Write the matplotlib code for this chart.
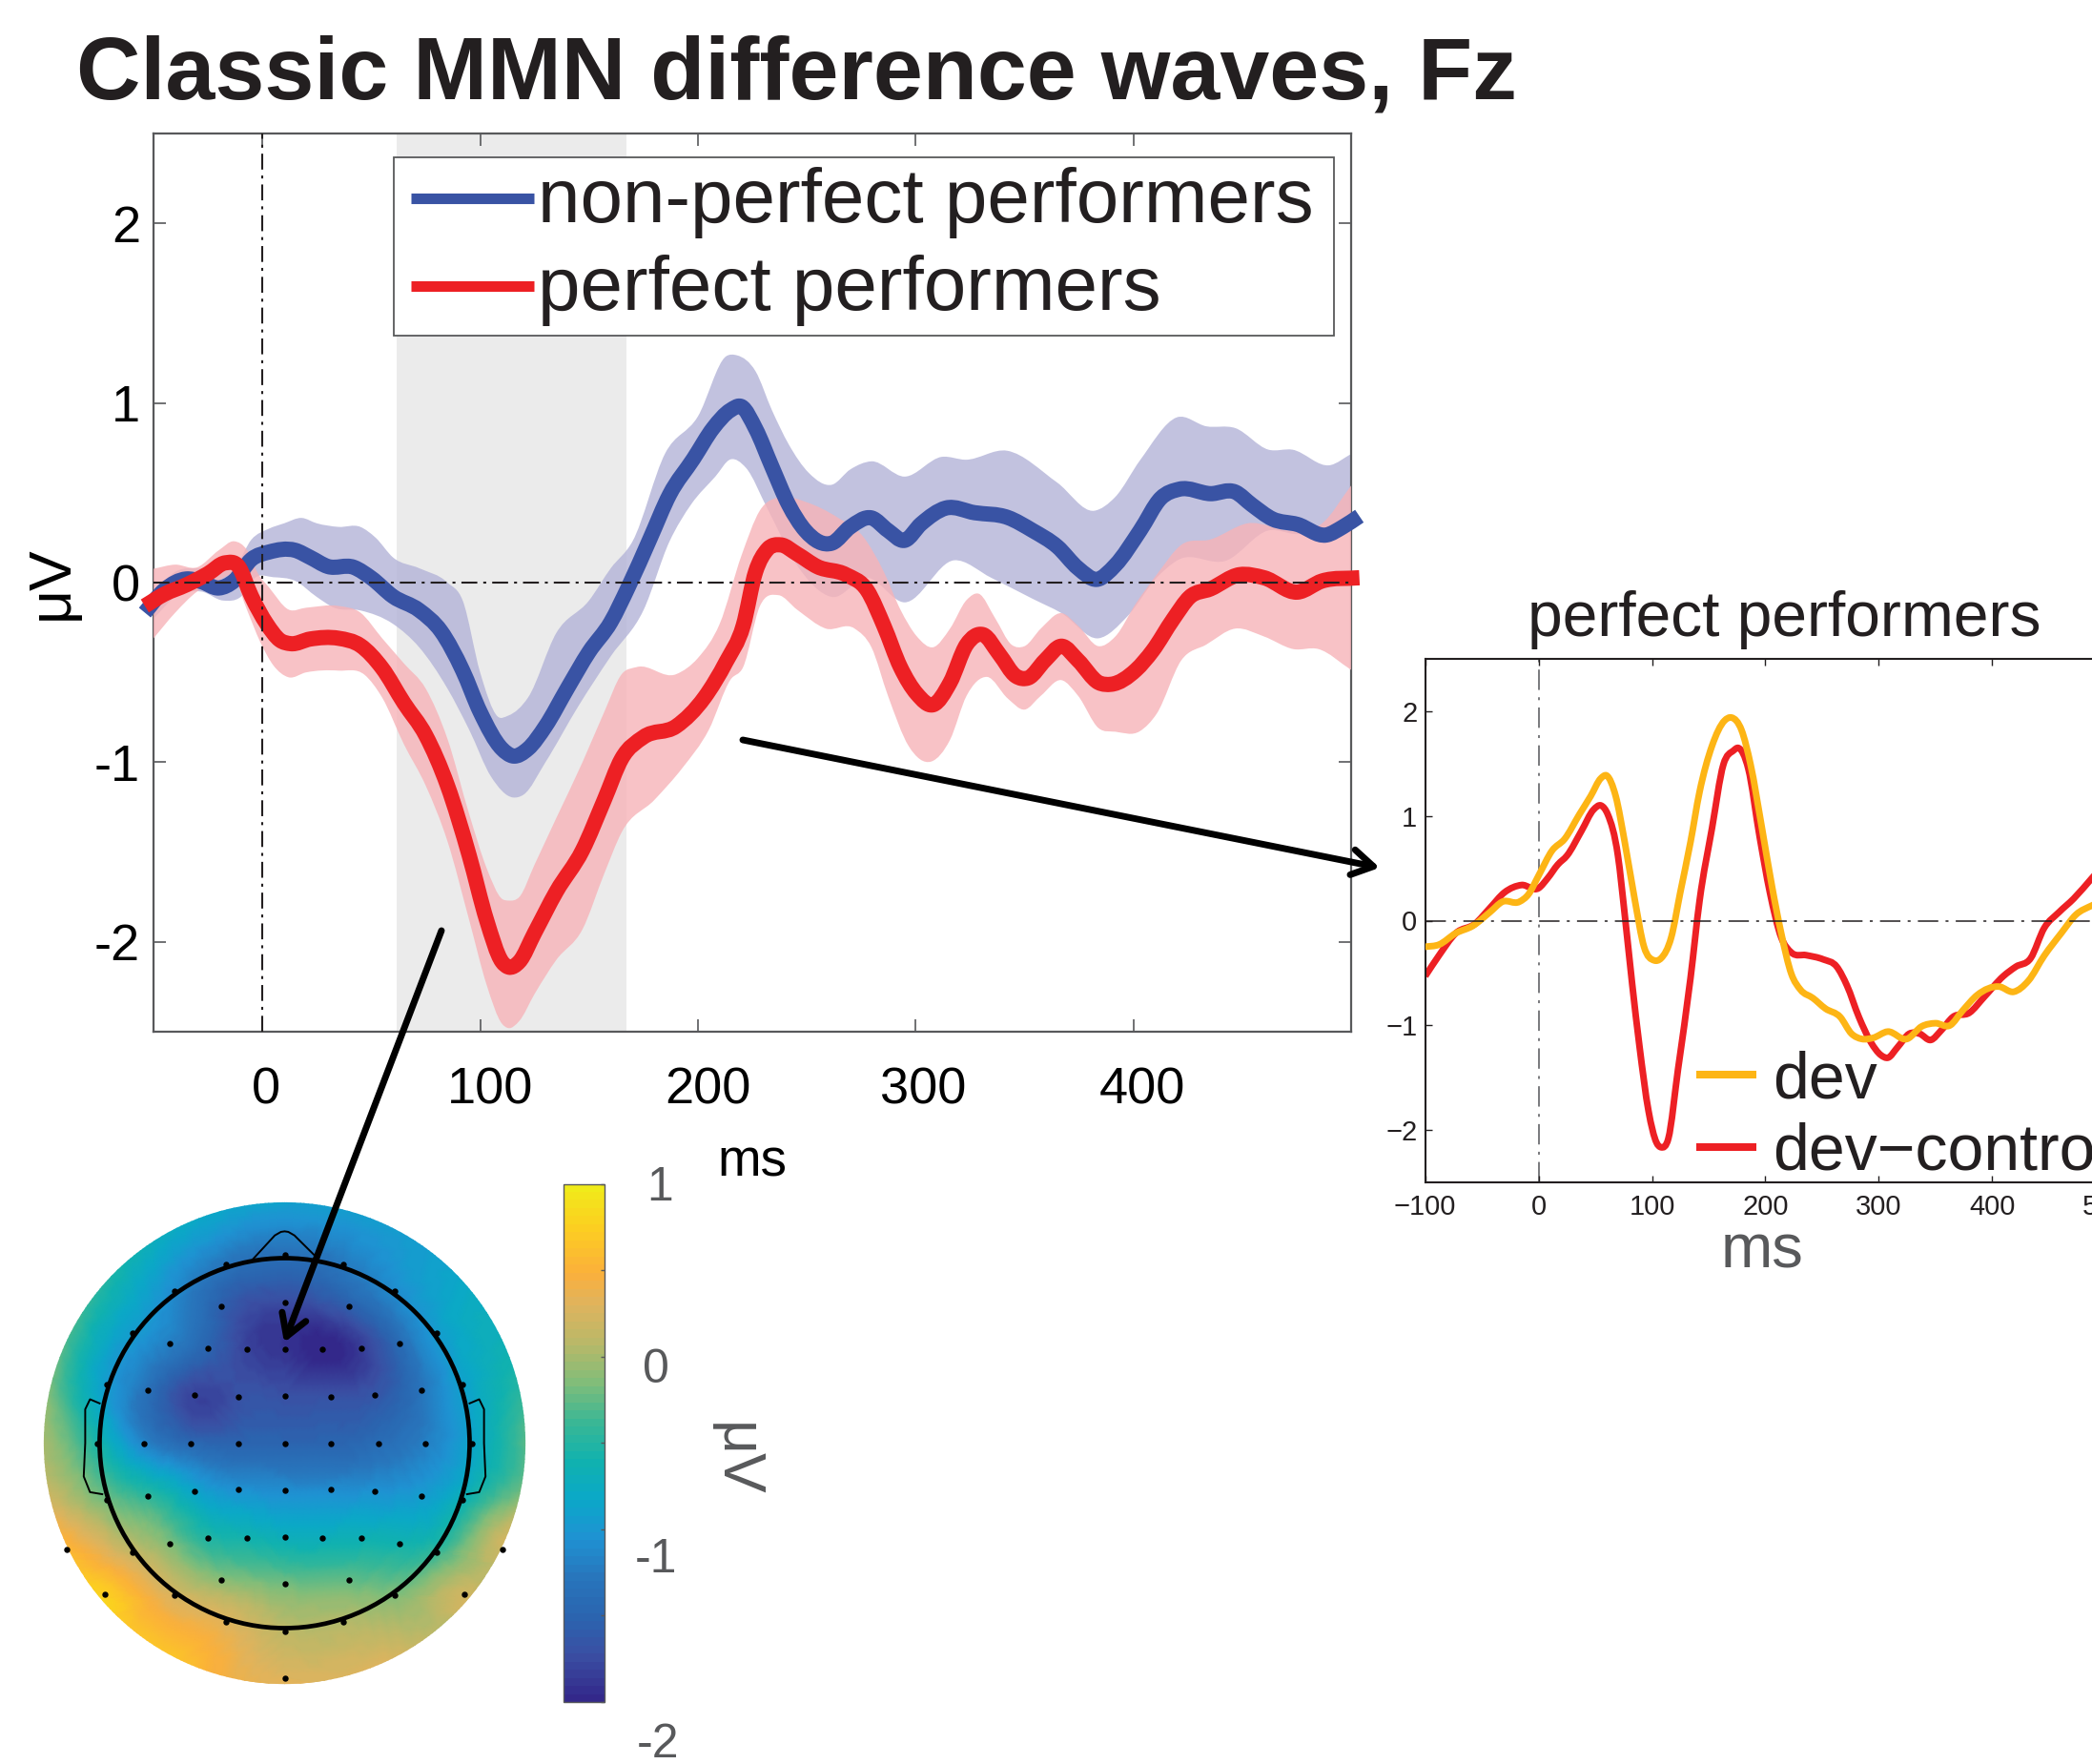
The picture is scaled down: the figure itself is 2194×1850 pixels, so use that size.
import numpy as np
import matplotlib
matplotlib.use('Agg')
import matplotlib.pyplot as plt
from matplotlib.colors import LinearSegmentedColormap, Normalize
from matplotlib.patches import FancyArrowPatch, Circle, PathPatch, Rectangle
from matplotlib.path import Path
from matplotlib.lines import Line2D
from matplotlib.tri import Triangulation, UniformTriRefiner, CubicTriInterpolator
from matplotlib.transforms import ScaledTranslation

plt.rcParams['font.family'] = ['Liberation Sans', 'DejaVu Sans']

# ---------- main panel: difference waves ----------
nonperf_t = [-54,-45,-35,-28,-20,-13,-5,3,15,22,30,42,50,60,72,82,92,100,110,115,122,130,140,150,160,168,178,187,198,207,215,220,226.5,234,241.7,249.3,261.6,270,279.7,287.3,294.9,302.5,313.9,327.1,342.3,353.7,365.1,374.6,383.2,391.7,403.1,412.6,421.1,435.4,446.8,454.4,463.9,475.3,488.6,496.2,503.8]
nonperf_v = [-0.167,-0.04,0.02,0.005,-0.03,0.01,0.13,0.17,0.18,0.14,0.09,0.085,0.026,-0.077,-0.154,-0.27,-0.49,-0.72,-0.925,-0.965,-0.925,-0.80,-0.59,-0.386,-0.22,-0.026,0.244,0.49,0.69,0.86,0.96,0.98,0.857,0.645,0.433,0.29,0.22,0.31,0.36,0.29,0.235,0.327,0.415,0.389,0.3625,0.29,0.20,0.08,0.018,0.097,0.29,0.47,0.52,0.495,0.504,0.433,0.354,0.324,0.265,0.31,0.37]
nonperf_up_t = [-50,-40,-28,-20,-12,-5,3,10,18,25,35,45,52,60,72,85,92,100,108,113,122,135,150,160,170,185,200,213,218,226.5,234,241.7,251,261.6,270,279.7,294.9,312,323,342,365,382,391.7,403,420,433.5,446.8,462,473,490.5,500]
nonperf_up_v = [-0.06,0.06,0.08,0.08,0.1,0.24,0.30,0.33,0.36,0.33,0.31,0.31,0.25,0.14,0.08,0.0,-0.1,-0.5,-0.745,-0.74,-0.64,-0.28,-0.1,0.08,0.23,0.72,0.925,1.26,1.265,1.176,0.96,0.77,0.61,0.545,0.63,0.675,0.59,0.70,0.684,0.734,0.557,0.40,0.477,0.68,0.92,0.87,0.86,0.74,0.74,0.654,0.716]
nonperf_lo_t = [-50,-40,-28,-18,-10,-3,5,15,25,33,45,60,72,85,95,105,115,120,130,145,160,175,187,197,208,215,222,232,245.5,261.6,277.8,294.9,317.6,334.7,353.7,367,384,397.4,410.7,420.2,443,462,475.3,488.6,500]
nonperf_lo_v = [-0.2,-0.08,-0.05,-0.1,-0.08,0.03,0.03,0.01,-0.08,-0.14,-0.155,-0.23,-0.36,-0.59,-0.82,-1.08,-1.196,-1.18,-1.0,-0.69,-0.41,-0.154,0.23,0.437,0.59,0.686,0.64,0.41,0.097,-0.08,0.027,-0.11,0.124,0.027,-0.09,-0.17,-0.31,-0.186,0.027,0.124,0.124,0.29,0.27,0.30,0.38]

perf_t = [-54,-45,-35,-25,-17,-11,-5,2,8,13,22,35,45,55,65,75,85,95,103,110,113,118,125,135,147,157,165,175,190,203,213,220.8,226.5,232,238,245.5,255,268,277.8,285.4,293,300.6,308,315.8,323.4,331,338.5,346,351.8,359.4,367,374.6,384.1,389.8,401.2,408.8,418.3,425.9,435.4,448.7,460,475.3,486.7,503.8]
perf_v = [-0.13,-0.064,-0.013,0.05,0.11,0.09,-0.077,-0.23,-0.32,-0.34,-0.314,-0.31,-0.35,-0.476,-0.67,-0.85,-1.13,-1.52,-1.88,-2.11,-2.14,-2.11,-1.95,-1.72,-1.49,-1.21,-0.98,-0.86,-0.80,-0.64,-0.44,-0.24,0.06,0.186,0.21,0.16,0.088,0.044,-0.044,-0.24,-0.47,-0.62,-0.68,-0.557,-0.345,-0.29,-0.40,-0.52,-0.53,-0.433,-0.354,-0.433,-0.557,-0.566,-0.486,-0.38,-0.203,-0.08,-0.035,0.044,0.027,-0.053,0.009,0.027]
perf_up_t = [-50,-40,-30,-20,-13,-7,-2,3,12,20,35,45,55,65,75,85,95,103,110,113,118,125,135,147,157,165,172,190,200,210,220,228.4,238,249.3,264.5,275.9,285.4,293,300.6,308,315.8,323.4,329,336.6,344,350,357.5,367,374.6,384,391.7,401.2,410.7,422,435.4,452.5,473.4,486.7,500]
perf_up_v = [0.077,0.10,0.085,0.18,0.23,0.18,0.05,-0.026,-0.15,-0.14,-0.13,-0.167,-0.31,-0.45,-0.59,-0.87,-1.29,-1.59,-1.76,-1.77,-1.75,-1.57,-1.31,-1.0,-0.72,-0.51,-0.47,-0.51,-0.42,-0.23,0.15,0.40,0.477,0.45,0.36,0.256,0.06,-0.15,-0.30,-0.36,-0.256,-0.097,-0.062,-0.20,-0.345,-0.354,-0.256,-0.17,-0.24,-0.354,-0.30,-0.115,0.044,0.21,0.24,0.33,0.29,0.33,0.54]
perf_lo_t = [-50,-40,-30,-20,-13,-7,-1,5,12,20,35,47,55,65,75,85,95,103,110,113,118,125,135,147,157,165,180,193,205,215,220.8,228.4,237,245.5,258.8,272,279.7,287.3,296.8,307.2,315.8,323.4,332.8,342.3,350,357.5,367,374.6,384,391.7,403,410.7,422,433.5,446.8,460,473.4,485,500]
perf_lo_v = [-0.31,-0.167,-0.05,0.013,0.026,-0.154,-0.33,-0.46,-0.527,-0.50,-0.49,-0.514,-0.64,-0.9,-1.13,-1.44,-1.88,-2.24,-2.455,-2.48,-2.44,-2.29,-2.1,-1.93,-1.62,-1.39,-1.21,-1.03,-0.82,-0.54,-0.47,-0.133,-0.07,-0.15,-0.256,-0.256,-0.36,-0.63,-0.91,-0.996,-0.875,-0.63,-0.525,-0.645,-0.707,-0.63,-0.543,-0.63,-0.81,-0.83,-0.827,-0.73,-0.433,-0.345,-0.256,-0.30,-0.37,-0.37,-0.486]

main_xticks = [0, 100, 200, 300, 400]
main_yticks = [-2, -1, 0, 1, 2]
main_ylabels = ['-2', '-1', '0', '1', '2']
window_ms = [61.5, 167]

# ---------- inset: perfect performers ----------
dev_t = [-100,-88,-73,-58,-43,-32,-17,-9,0,12,23,36,46,55,60,68,76,85,93,102,108,117,125,134,142,153,164,170,179,187,197,206,214,223,231,242,253,266,276,285,295,308,325,338,350,363,374,387,406,419,432,446,461,474,488,500]
dev_v = [-0.25,-0.23,-0.12,-0.05,0.08,0.18,0.18,0.25,0.43,0.67,0.78,1.015,1.19,1.36,1.386,1.19,0.75,0.19,-0.25,-0.38,-0.36,-0.16,0.27,0.75,1.23,1.67,1.91,1.94,1.82,1.49,0.885,0.32,-0.12,-0.51,-0.66,-0.74,-0.84,-0.92,-1.08,-1.13,-1.12,-1.06,-1.13,-1.01,-0.98,-1.0,-0.86,-0.71,-0.63,-0.68,-0.575,-0.335,-0.12,0.057,0.144,0.2]
devctl_t = [-100,-88,-73,-56,-43,-30,-15,0,8,17,25,38,48.5,55,61,70,76,82.5,89,97,104,108,114.5,123,134,142,153,163,172,176,185,195,204,214,223,236,251,263,272,282.5,293,302,308,316.6,327,336,346,355,365.5,380,393,410,421,434,446,459,472,488,500]
devctl_v = [-0.53,-0.335,-0.12,-0.03,0.12,0.27,0.34,0.31,0.405,0.536,0.62,0.86,1.06,1.10,1.015,0.62,0.057,-0.6,-1.2,-1.82,-2.12,-2.165,-2.08,-1.42,-0.55,0.19,0.885,1.49,1.625,1.65,1.45,0.8,0.27,-0.16,-0.305,-0.33,-0.37,-0.44,-0.62,-0.92,-1.16,-1.285,-1.31,-1.21,-1.08,-1.08,-1.14,-1.05,-0.92,-0.88,-0.73,-0.53,-0.44,-0.36,-0.07,0.08,0.21,0.405,0.55]
inset_xticks = [-100, 0, 100, 200, 300, 400, 500]
inset_xlabels = ['\u2212100', '0', '100', '200', '300', '400', '500']
inset_yticks = [-2, -1, 0, 1, 2]
inset_ylabels = ['\u22122', '\u22121', '0', '1', '2']

# ---------- scalp map: electrodes (head radius = 1) ----------
elec_x = [0,-.316,.316,-.595,.595,-.823,.823,
          -.342,0,.347,
          -.623,-.416,-.205,0,.205,.416,.623,
          -.96,-.739,-.487,-.25,0,.25,.487,.739,.96,
          -1.013,-.76,-.508,-.252,0,.252,.508,.76,1.013,
          -.96,-.739,-.487,-.25,0,.25,.487,.739,.96,
          -.823,-.623,-.416,-.205,0,.205,.416,.623,.823,
          -.595,-.342,0,.347,.595,
          -.316,0,.316,
          -1.176,1.176,-.97,.97,0]
elec_y = [1.016,.967,.967,.824,.824,.594,.594,
          .739,.76,.739,
          .54,.512,.51,.508,.51,.512,.54,
          .316,.284,.258,.252,.254,.252,.258,.284,.316,
          0,0,0,0,0,0,0,0,0,
          -.308,-.284,-.261,-.25,-.255,-.25,-.261,-.284,-.308,
          -.592,-.543,-.515,-.513,-.509,-.513,-.515,-.543,-.592,
          -.82,-.742,-.761,-.742,-.82,
          -.966,-1.017,-.966,
          -.573,-.573,-.817,-.817,-1.27]
elec_val = [-1.35,-1.3,-1.25,-1.1,-1.1,-.95,-.95,
            -1.55,-1.75,-1.55,
            -1.2,-1.5,-1.8,-1.9,-2.0,-1.85,-1.4,
            -.95,-1.35,-1.8,-1.7,-1.7,-1.7,-1.65,-1.3,-.9,
            -.55,-1.15,-1.45,-1.5,-1.5,-1.5,-1.4,-1.2,-.85,
            -.2,-.45,-.85,-1.05,-1.1,-1.1,-1.05,-.95,-.65,
            .15,-.15,-.5,-.6,-.7,-.7,-.65,-.6,-.4,
            .25,-.1,-.2,-.25,-.15,
            .3,.1,.05,
            .55,.2,.75,.2,.3]
# rim of the map, clockwise from the top, every 15 degrees
rim_val = [-.85,-.9,-.95,-.85,-.7,-.5,-.2,0,.1,.15,.25,.3,.35,.45,.7,.75,.65,.3,.05,-.1,-.3,-.5,-.7,-.8]
cbar_ticks = [-2, -1.5, -1, -.5, 0, .5, 1]
cbar_labels = ['-2', '-1', '0', '1']
cmap_stops = ['#33288a', '#3a4fa3', '#2a65b0', '#2876bc', '#1f92d3', '#0aa8c8', '#11b2ae',
              '#3cb794', '#82bd79', '#b9b868', '#dfb35e', '#fbb03b', '#fccf20', '#f0eb1a']
cmap_pos = [0, .085, .162, .238, .314, .39, .466, .543, .619, .695, .771, .832, .924, 1]
nose_x = [-.171,-.053,-.02,0,.02,.053,.171]
nose_y = [.995,1.123,1.142,1.145,1.142,1.123,1.006]
ear_x = [1.0,1.052,1.078,1.078,1.086,1.052,.986]
ear_y = [.215,.237,.183,0,-.18,-.265,-.276]

W, H = 2194, 1850
TXT = '#231f20'
GREY = '#58595b'
fig = plt.figure(figsize=(W/100, H/100), dpi=100)

def axpx(l, t, r, b):
    return fig.add_axes([l/W, 1-b/H, (r-l)/W, (b-t)/H])
def fpt(x, y):
    return (x/W, 1-y/H)

def curve(t, v):
    """Bezier segments through the read points; adds no values of its own."""
    t = np.asarray(t, float); v = np.asarray(v, float)
    m = np.gradient(v, t)
    verts = [(t[0], v[0])]
    for i in range(len(t)-1):
        d = (t[i+1]-t[i])/3
        verts += [(t[i]+d, v[i]+m[i]*d), (t[i+1]-d, v[i+1]-m[i+1]*d), (t[i+1], v[i+1])]
    return verts

def line_patch(a, t, v, color, lw, z, clip=True):
    vs = curve(t, v)
    codes = [Path.MOVETO] + [Path.CURVE4]*(len(vs)-1)
    p = PathPatch(Path(vs, codes), fill=False, ec=color, lw=lw, capstyle='butt', joinstyle='round', zorder=z)
    a.add_patch(p)
    p.set_clip_on(clip)
    return p

def band_patch(a, tu, vu, tl, vl, color, alpha, z):
    up = curve(tu, vu); lo = curve(tl[::-1], vl[::-1])
    vs = up + lo + [up[0]]
    codes = [Path.MOVETO] + [Path.CURVE4]*(len(up)-1) + [Path.LINETO] + [Path.CURVE4]*(len(lo)-1) + [Path.CLOSEPOLY]
    a.add_patch(PathPatch(Path(vs, codes), fc=color, ec='none', alpha=alpha, zorder=z))

fig.text(*fpt(80, 80), 'Classic MMN difference waves, Fz', fontsize=67.2, fontweight='bold',
         color=TXT, ha='left', va='center')

# main axes
ax = axpx(161, 140, 1417, 1082)
ax.set_xlim(-50, 500); ax.set_ylim(-2.5, 2.5)
ax.axvspan(window_ms[0], window_ms[1], color='#ebebeb', lw=0, zorder=1)
band_patch(ax, nonperf_up_t, nonperf_up_v, nonperf_lo_t, nonperf_lo_v, '#b3b3d8', .8, 2)
band_patch(ax, perf_up_t, perf_up_v, perf_lo_t, perf_lo_v, '#f7b3b8', .8, 3)
line_patch(ax, nonperf_t, nonperf_v, '#3953a4', 11.5, 4, clip=False)
line_patch(ax, perf_t, perf_v, '#ed2024', 11.5, 5, clip=False)
ax.axhline(0, color='#231f20', lw=1.5, ls=(0, (8, 3, 1.5, 3)), zorder=6)
ax.axvline(0, color='#231f20', lw=1.5, ls=(0, (8, 3, 1.5, 3)), zorder=6)
ax.set_xticks(main_xticks); ax.set_yticks(main_yticks, main_ylabels)
ax.tick_params(direction='in', length=9.5, width=1.2, color=GREY, top=True, right=True, labelsize=39, labelcolor='black')
ax.tick_params(axis='x', pad=26)
ax.tick_params(axis='y', pad=10)
for lab, dx in zip(ax.get_xticklabels(), [4, 11, 11, 8, 9]):
    lab.set_transform(lab.get_transform() + ScaledTranslation(dx/100, 0, fig.dpi_scale_trans))
for s in ax.spines.values():
    s.set_color(GREY); s.set_linewidth(1.6)
ax.set_xlabel('ms', fontsize=39.5, color='black')
ax.xaxis.set_label_coords((789-161)/1256, (1082-1220)/942)
ax.xaxis.label.set_va('center')
ax.set_ylabel('\u03bcV', fontsize=45, color='black')
ax.yaxis.set_label_coords((54-161)/1256, (1082-611)/942)
ax.yaxis.label.set_va('center')
ax.add_patch(Rectangle(fpt(413, 352), 986/W, 187/H, transform=fig.transFigure, fc='white',
                       ec=GREY, lw=1.3, zorder=6.5, clip_on=False))
h1 = Line2D([], [], color='#3953a4', lw=8, solid_capstyle='butt')
h2 = Line2D([], [], color='#ed2024', lw=8, solid_capstyle='butt')
leg = ax.legend([h1, h2], ['non-perfect performers', 'perfect performers'], loc='upper left',
                bbox_to_anchor=fpt(431, 175), bbox_transform=fig.transFigure, borderaxespad=0,
                fontsize=57.6, labelcolor=TXT, frameon=False, borderpad=0, handlelength=1.61,
                handleheight=.45, handletextpad=.05, labelspacing=.21)
leg.set_zorder(7)

# inset
ax2 = axpx(1494.7, 691, 2327, 1240)
ax2.set_xlim(-100, 600); ax2.set_ylim(-2.5, 2.5)
ax2.axhline(0, color='#231f20', lw=1.1, ls=(0, (14, 5, 2, 5)), zorder=5)
ax2.axvline(0, color='#55565a', lw=1.1, ls=(0, (14, 5, 2, 5)), zorder=1)
line_patch(ax2, devctl_t, devctl_v, '#ed2024', 5, 2)
line_patch(ax2, dev_t, dev_v, '#fdb515', 5, 3)
ax2.set_xticks(inset_xticks, inset_xlabels); ax2.set_yticks(inset_yticks, inset_ylabels)
ax2.tick_params(direction='in', length=5, width=1, color=TXT, top=True, labelsize=21, labelcolor=TXT, pad=9)
ax2.tick_params(axis='y', pad=6)
for s in ax2.spines.values():
    s.set_color(TXT); s.set_linewidth(1.5)
ax2.set_title('perfect performers', fontsize=47.4, color=TXT, pad=0, x=(1871-1494.7)/832.3, y=(1240-650)/549, va='center')
ax2.set_xlabel('ms', fontsize=47, color='#58595b')
ax2.xaxis.set_label_coords((1848-1494.7)/832.3, (1240-1313)/549)
ax2.xaxis.label.set_va('center')
h3 = Line2D([], [], color='#fdb515', lw=5.8, solid_capstyle='butt')
h4 = Line2D([], [], color='#ed2024', lw=5.8, solid_capstyle='butt')
leg2 = ax2.legend([h3, h4], ['dev', 'dev\u2212control'], loc='upper left',
                  bbox_to_anchor=fpt(1779, 1101), bbox_transform=fig.transFigure, borderaxespad=0,
                  fontsize=49, labelcolor=TXT, frameon=False, borderpad=0, handlelength=.93,
                  handletextpad=.25, labelspacing=.17)
leg2.set_zorder(6)

# scalp map
R = 194.0
lim = 1.36
topo = axpx(298.5-lim*R, 1513.5-lim*R, 298.5+lim*R, 1513.5+lim*R)
topo.set_xlim(-lim, lim); topo.set_ylim(-lim, lim); topo.axis('off')
rim_a = np.deg2rad(np.arange(24)*15)
px = np.r_[elec_x, 1.335*np.sin(rim_a)]
py = np.r_[elec_y, 1.335*np.cos(rim_a)]
pv = np.r_[elec_val, rim_val]
cmap = LinearSegmentedColormap.from_list('scalp', list(zip(cmap_pos, cmap_stops)), N=64)
norm = Normalize(-2, 1)
tri = Triangulation(px, py)
fine_tri, fine_v = UniformTriRefiner(tri).refine_field(pv, triinterpolator=CubicTriInterpolator(tri, pv, kind='min_E'), subdiv=3)
pc = topo.tripcolor(fine_tri, fine_v, shading='gouraud', cmap=cmap, norm=norm, zorder=1)
pc.set_clip_path(Circle((0, 0), 1.302, transform=topo.transData))
topo.add_patch(Circle((0, 0), 1, fc='none', ec='black', lw=3.4, zorder=3))
topo.plot(nose_x, nose_y, color='black', lw=1.4, zorder=3)
topo.plot(ear_x, ear_y, color='black', lw=1.4, zorder=3)
topo.plot(-np.array(ear_x), ear_y, color='black', lw=1.4, zorder=3)
topo.plot(elec_x, elec_y, ls='none', marker='o', ms=3.6, color='black', zorder=4)

cax = axpx(591, 1241.5, 634, 1785)
cb = fig.colorbar(pc, cax=cax, ticks=cbar_ticks)
cb.ax.tick_params(direction='in', length=3, width=1, color=GREY, labelright=False)
cb.outline.set_edgecolor(GREY); cb.outline.set_linewidth(1)
for txt, yy, xx in zip(cbar_labels, [1830, 1636, 1437, 1246], [690, 688, 688, 692]):
    fig.text(*fpt(xx, yy), txt, fontsize=36, color=GREY, ha='center', va='center')
fig.text(*fpt(771, 1531), '\u03bcV', fontsize=45, color=GREY, rotation=-90, ha='center', va='center')

# arrows
for a, b in [((779, 776), (1447, 910)), ((463, 976), (298, 1408))]:
    fig.add_artist(FancyArrowPatch(fpt(*a), fpt(*b), transform=fig.transFigure,
                   arrowstyle='->,head_length=10,head_width=6', lw=5, color='black',
                   mutation_scale=1.6, zorder=10, shrinkA=0, shrinkB=0))

fig.savefig('out.png', dpi=100)
